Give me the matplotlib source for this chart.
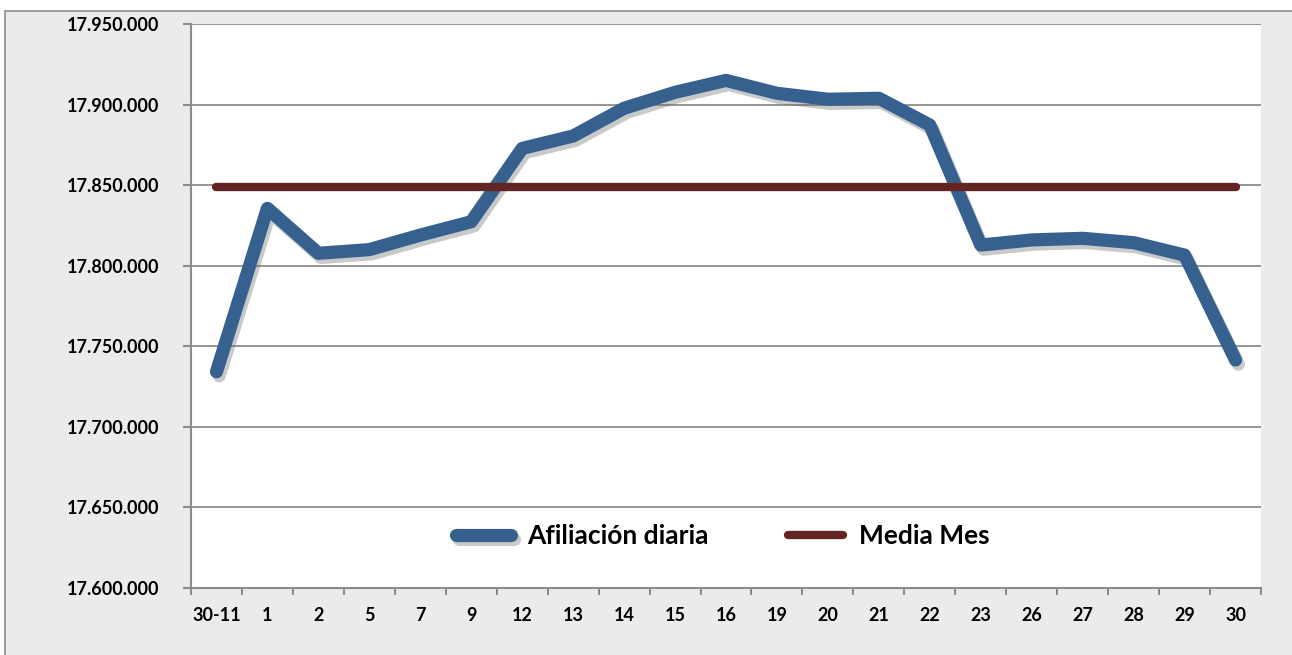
import matplotlib
matplotlib.use("Agg")
import matplotlib.pyplot as plt
import matplotlib.patheffects as pe
from matplotlib.patches import Rectangle
from matplotlib.ticker import FuncFormatter, MultipleLocator, FixedLocator
import numpy as np

# days of the month (first one is the last day of the previous month)
dias = ["30-11", "1", "2", "5", "7", "9", "12", "13", "14", "15", "16",
        "19", "20", "21", "22", "23", "26", "27", "28", "29", "30"]

# daily affiliation
afiliacion = [17734200, 17835600, 17807700, 17810000, 17819000, 17827300,
              17872800, 17880500, 17897700, 17907600, 17915000, 17907000,
              17903300, 17903900, 17887300, 17812800, 17816000, 17817000,
              17814300, 17806600, 17741500]

# monthly mean
media_mes = [17849000] * len(dias)

y_min, y_max, y_step = 17600000, 17950000, 50000

plt.rcParams['font.family'] = ['Lato', 'DejaVu Sans']
plt.rcParams['font.weight'] = 'bold'

fig = plt.figure(figsize=(12.92, 6.55), dpi=100)
fig.patch.set_facecolor('white')

# outer chart area (grey with border, cropped at right/bottom)
W, H = 1292, 655
fig.patches.append(Rectangle((5 / W, -0.01), 1.02, (H - 11) / H + 0.01,
                             transform=fig.transFigure, facecolor='#ebebeb',
                             edgecolor='#8c8c8c', linewidth=1.2, zorder=-10))

ax = fig.add_axes([191 / W, (H - 588) / H, (1261 - 191) / W, (588 - 24) / H])
ax.set_facecolor('white')
ax.set_zorder(1)

x = np.arange(len(dias))

blue = '#36618f'
red = '#632523'

shadow = [pe.SimpleLineShadow(offset=(2, -3), shadow_color='#666666', alpha=0.35),
          pe.Normal()]
ax.plot(x, afiliacion, color=blue, linewidth=9.5, solid_capstyle='round',
        solid_joinstyle='round', label='Afiliación diaria', zorder=3,
        path_effects=shadow)
ax.plot(x, media_mes, color=red, linewidth=6, solid_capstyle='round',
        label='Media Mes', zorder=4)

# axes styling
ax.set_ylim(y_min, y_max)
ax.set_xlim(-0.5, len(dias) - 0.5)
ax.yaxis.set_major_locator(MultipleLocator(y_step))
ax.yaxis.set_major_formatter(FuncFormatter(lambda v, p: '{:,.0f}'.format(v).replace(',', '.')))
ax.grid(axis='y', color='#8c8c8c', linewidth=1.3)
ax.set_axisbelow(True)

for s in ['top', 'right']:
    ax.spines[s].set_visible(False)
for s in ['left', 'bottom']:
    ax.spines[s].set_color('#8c8c8c')
    ax.spines[s].set_linewidth(1.5)

ax.set_xticks(x)
ax.set_xticklabels(dias)
ax.xaxis.set_minor_locator(FixedLocator(np.arange(-0.5, len(dias), 1.0)))
ax.tick_params(axis='x', which='major', length=0, pad=14, labelsize=13)
ax.tick_params(axis='x', which='minor', length=5, width=1.5, color='#8c8c8c', direction='out')
ax.tick_params(axis='y', length=6, width=1.5, color='#8c8c8c', pad=17, labelsize=13)
for lbl in ax.get_xticklabels() + ax.get_yticklabels():
    lbl.set_fontweight('bold')

leg = ax.legend(loc='center', bbox_to_anchor=(0.497, 0.092), ncol=2, frameon=False,
                prop={'size': 19, 'weight': 'bold'}, handlelength=2.1,
                handletextpad=0.6, columnspacing=3.0)

fig.savefig('out.png', dpi=100, facecolor=fig.get_facecolor())
